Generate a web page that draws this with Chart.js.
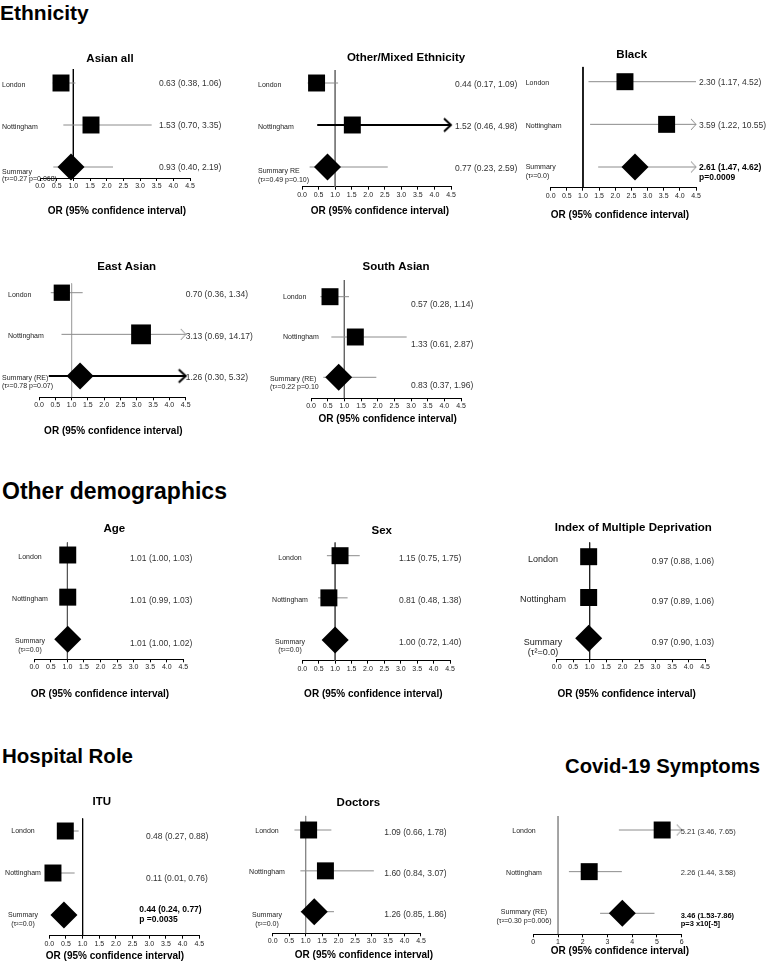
<!DOCTYPE html>
<html>
<head>
<meta charset="utf-8">
<script src="https://cdn.jsdelivr.net/npm/chart.js@4"></script>
<style>
  body { margin: 0; background: #fff; width: 768px; height: 964px; position: relative; overflow: hidden;
         font-family: "Liberation Sans", Arial, sans-serif; }
  canvas { position: absolute; left: 0; top: 0; pointer-events: none; }
  .hd { position: absolute; font-weight: bold; font-size: 21px; line-height: 1; white-space: nowrap; color: #000; }
</style>
</head>
<body>
<div class="hd" style="left:0;top:2px">Ethnicity</div>
<div class="hd" style="left:2px;top:480px;font-size:23px">Other demographics</div>
<div class="hd" style="left:2px;top:746px;font-size:20.5px">Hospital Role</div>
<div class="hd" style="left:565px;top:756px;font-size:20.3px">Covid-19 Symptoms</div>
<script>
const FONT = '"Liberation Sans", Arial, sans-serif';

const rowNames = ['London', 'Nottingham', 'Summary'];
const orTickLabels = ['0.0', '0.5', '1.0', '1.5', '2.0', '2.5', '3.0', '3.5', '4.0', '4.5'];
const covidTickLabels = ['0', '1', '2', '3', '4', '5', '6'];

// odds ratio, lower and upper 95% limit: London, Nottingham, Summary
const asianAllOR = [0.63, 1.53, 0.93];
const asianAllLow = [0.38, 0.70, 0.40];
const asianAllHigh = [1.06, 3.35, 2.19];

const otherOR = [0.44, 1.52, 0.77];
const otherLow = [0.17, 0.46, 0.23];
const otherHigh = [1.09, 4.98, 2.59];

const blackOR = [2.30, 3.59, 2.61];
const blackLow = [1.17, 1.22, 1.47];
const blackHigh = [4.52, 10.55, 4.62];

const eastAsianOR = [0.70, 3.13, 1.26];
const eastAsianLow = [0.36, 0.69, 0.30];
const eastAsianHigh = [1.34, 14.17, 5.32];

const southAsianOR = [0.57, 1.33, 0.83];
const southAsianLow = [0.28, 0.61, 0.37];
const southAsianHigh = [1.14, 2.87, 1.96];

const ageOR = [1.01, 1.01, 1.01];
const ageLow = [1.00, 0.99, 1.00];
const ageHigh = [1.03, 1.03, 1.02];

const sexOR = [1.15, 0.81, 1.00];
const sexLow = [0.75, 0.48, 0.72];
const sexHigh = [1.75, 1.38, 1.40];

const imdOR = [0.97, 0.97, 0.97];
const imdLow = [0.88, 0.89, 0.90];
const imdHigh = [1.06, 1.06, 1.03];

const ituOR = [0.48, 0.11, 0.44];
const ituLow = [0.27, 0.01, 0.24];
const ituHigh = [0.88, 0.76, 0.77];

const doctorsOR = [1.09, 1.60, 1.26];
const doctorsLow = [0.66, 0.84, 0.85];
const doctorsHigh = [1.78, 3.07, 1.86];

// covid summary is drawn where the picture shows it; its printed text differs
const covidOR = [5.21, 2.26, 3.6];
const covidLow = [3.46, 1.44, 2.7];
const covidHigh = [7.65, 3.58, 4.9];
const covidSummaryText = ['3.46 (1.53-7.86)', 'p=3 x10[-5]'];

const blackSummaryP = 'p=0.0009';
const ituSummaryP = 'p =0.0035';

function fmt(a, b, c) {
  return a.toFixed(2) + ' (' + b.toFixed(2) + ', ' + c.toFixed(2) + ')';
}

function chevron(depth, h, color, lw) {
  const c = document.createElement('canvas');
  c.width = 2 * (depth + 2);
  c.height = h + 4;
  const g = c.getContext('2d');
  g.strokeStyle = color;
  g.lineWidth = lw;
  g.beginPath();
  g.moveTo(2, 2);
  g.lineTo(depth + 2, h / 2 + 2);
  g.lineTo(2, h + 2);
  g.stroke();
  return c;
}
const grayHead = chevron(5, 11, '#8a8a8a', 1);
const blackHead = chevron(7, 13, '#000', 2);

const panels = [
  { title: 'Asian all', or: asianAllOR, lo: asianAllLow, hi: asianAllHigh,
    sumName: 'Summary', note: '(τ²=0.27 p=0.068)',
    x0: 40, x1: 190, top: 69, axis: 178, r0: 83, r2: 167, ref: '#000',
    labX: 2, labAlign: 'left', labDy: 2, sumDy: 5, sumGap: 7,
    estX: 159, estDy: 1, titleX: 110, titleY: 59, axTX: 117, axTY: 211 },
  { title: 'Other/Mixed Ethnicity', or: otherOR, lo: otherLow, hi: otherHigh,
    sumName: 'Summary RE', note: '(τ²=0.49 p=0.10)', boldRow: 1,
    x0: 302, x1: 451, top: 70, axis: 186.7, r0: 83, r2: 167, ref: '#777',
    labX: 258, labAlign: 'left', labDy: 2, sumDy: 4, sumGap: 9,
    estX: 455, estDy: 2, titleX: 406, titleY: 58, axTX: 380, axTY: 211 },
  { title: 'Black', or: blackOR, lo: blackLow, hi: blackHigh,
    sumName: 'Summary', note: '(τ²=0.0)',
    sumLines: [fmt(blackOR[2], blackLow[2], blackHigh[2]), blackSummaryP], sumEstDy: 1, sumEstGap: 9.3,
    x0: 550.7, x1: 696, top: 66.7, axis: 187.7, r0: 81.7, r2: 167, ref: '#000',
    labX: 525.7, labAlign: 'left', labDy: 1.5, sumDy: 0, sumGap: 9,
    estX: 699, estDy: 1, titleX: 631.7, titleY: 55, axTX: 620, axTY: 215.7 },
  { title: 'East Asian', or: eastAsianOR, lo: eastAsianLow, hi: eastAsianHigh,
    sumName: 'Summary (RE)', note: '(τ²=0.78 p=0.07)', boldRow: 2, sizes: [11.5, 14, 13.5],
    x0: 39, x1: 185.7, top: 283.3, axis: 397.3, r0: 292.7, r2: 376, ref: '#aaa',
    labX: 8, sumX: 2, labAlign: 'left', labDy: 2, sumDy: 2, sumGap: 8,
    estX: 185.7, estDy: 2, titleX: 126.7, titleY: 266.7, axTX: 113.3, axTY: 431.7 },
  { title: 'South Asian', or: southAsianOR, lo: southAsianLow, hi: southAsianHigh,
    sumName: 'Summary (RE)', note: '(τ²=0.22 p=0.10',
    x0: 311, x1: 461, top: 280, axis: 398.3, r0: 296.7, r2: 377.3, ref: '#666',
    labX: 283, sumX: 270, labAlign: 'left', labDy: 0.5, sumDy: 2, sumGap: 7.5,
    estX: 411, estDy: 8, titleX: 396, titleY: 266.7, axTX: 387.7, axTY: 419.3 },
  { title: 'Age', or: ageOR, lo: ageLow, hi: ageHigh,
    sumName: 'Summary', note: '(τ²=0.0)',
    x0: 34.3, x1: 183.3, top: 542.3, axis: 659.3, r0: 555, r2: 639.3, ref: '#555',
    labX: 30, labAlign: 'center', labDy: 2, sumDy: 2, sumGap: 8.5,
    estX: 130, estDy: 4, titleX: 114.3, titleY: 529.3, axTX: 100, axTY: 694.3 },
  { title: 'Sex', or: sexOR, lo: sexLow, hi: sexHigh,
    sumName: 'Summary', note: '(τ²=0.0)',
    x0: 302.3, x1: 450, top: 542.3, axis: 660.7, r0: 555.7, r2: 640, ref: '#555',
    labX: 290, labAlign: 'center', labDy: 2.5, sumDy: 2, sumGap: 8.5,
    estX: 399, estDy: 3, titleX: 381.7, titleY: 530.7, axTX: 373.3, axTY: 694 },
  { title: 'Index of Multiple Deprivation', or: imdOR, lo: imdLow, hi: imdHigh,
    sumName: 'Summary', note: '(τ²=0.0)', labSize: 9,
    x0: 556.7, x1: 705, top: 542.3, axis: 659.3, r0: 556.7, r2: 638.3, ref: '#222',
    labX: 543, labAlign: 'center', labDy: 2.5, sumDy: 4, sumGap: 10.5,
    estX: 651.7, estDy: 4.5, titleX: 633.3, titleY: 528.3, axTX: 626.7, axTY: 694.3 },
  { title: 'ITU', or: ituOR, lo: ituLow, hi: ituHigh,
    sumName: 'Summary', note: '(τ²=0.0)',
    sumLines: [fmt(ituOR[2], ituLow[2], ituHigh[2]), ituSummaryP], sumEstX: 139.3, sumEstDy: -5, sumEstGap: 10,
    x0: 49.3, x1: 199.3, top: 818.3, axis: 935.7, r0: 831, r2: 915, ref: '#000',
    labX: 23, labAlign: 'center', labDy: 0.5, sumDy: 0, sumGap: 9,
    estX: 146, estDy: 6, titleX: 101.7, titleY: 802.3, axTX: 115, axTY: 956.7 },
  { title: 'Doctors', or: doctorsOR, lo: doctorsLow, hi: doctorsHigh,
    sumName: 'Summary', note: '(τ²=0.0)',
    x0: 272.7, x1: 421, top: 815.7, axis: 933.3, r0: 830, r2: 911.7, ref: '#888',
    labX: 267, labAlign: 'center', labDy: 1.5, sumDy: 3, sumGap: 9,
    estX: 384.3, estDy: 3, titleX: 358.3, titleY: 803.3, axTX: 364, axTY: 955.7 },
  { title: '', or: covidOR, lo: covidLow, hi: covidHigh, max: 6, step: 1, ticks: covidTickLabels,
    sumName: 'Summary (RE)', note: '(τ²=0.30 p=0.006)', estSize: 7.5,
    sumLines: covidSummaryText, sumEstDy: 2.4, sumEstGap: 8.6,
    x0: 533.3, x1: 681.7, top: 816, axis: 934.3, r0: 830, r2: 913.3, ref: '#999',
    labX: 524, labAlign: 'center', labDy: 1, sumDy: -1, sumGap: 9,
    estX: 680.7, estDy: 1.5, axTX: 620, axTY: 951.7 }
];

function txt(ctx, s, x, y, size, bold, align, color) {
  ctx.font = (bold ? 'bold ' : '') + size + 'px ' + FONT;
  ctx.textAlign = align || 'left';
  ctx.textBaseline = 'middle';
  ctx.fillStyle = color || '#222';
  ctx.fillText(s, x, y);
}

function panelText(p) {
  return {
    id: 'panelText',
    afterDraw(chart) {
      const ctx = chart.ctx;
      const ys = chart.scales.y;
      const ls = p.labSize || 7;
      const es = p.estSize || 8.5;
      ctx.save();
      if (p.title) txt(ctx, p.title, p.titleX, p.titleY, 11.5, true, 'center', '#000');
      txt(ctx, 'OR (95% confidence interval)', p.axTX, p.axTY, 10, true, 'center', '#000');
      rowNames.forEach((name, i) => {
        const y = ys.getPixelForValue(i);
        if (i < 2) {
          txt(ctx, name, p.labX, y + p.labDy, ls, false, p.labAlign, '#222');
          txt(ctx, fmt(p.or[i], p.lo[i], p.hi[i]), p.estX, y + p.estDy, es, false, 'left', '#333');
        } else {
          const sx = p.sumX !== undefined ? p.sumX : p.labX;
          txt(ctx, p.sumName, sx, y + p.sumDy, ls, false, p.labAlign, '#222');
          txt(ctx, p.note, sx, y + p.sumDy + p.sumGap, ls, false, p.labAlign, '#222');
          if (p.sumLines) {
            const ex = p.sumEstX !== undefined ? p.sumEstX : p.estX;
            txt(ctx, p.sumLines[0], ex, y + p.sumEstDy, es, true, 'left', '#000');
            txt(ctx, p.sumLines[1], ex, y + p.sumEstDy + p.sumEstGap, es, true, 'left', '#000');
          } else {
            txt(ctx, fmt(p.or[i], p.lo[i], p.hi[i]), p.estX, y + p.estDy, es, false, 'left', '#333');
          }
        }
      });
      ctx.restore();
    }
  };
}

panels.forEach(p => {
  const canvas = document.createElement('canvas');
  canvas.width = 768;
  canvas.height = 964;
  document.body.appendChild(canvas);

  const max = p.max || 4.5;
  const step = p.step || 0.5;
  const tickLabels = p.ticks || orTickLabels;
  const u = (p.r2 - p.r0) / 2;
  const yMin = -(p.r0 - p.top) / u;
  const yMax = 2 + (p.axis - p.r2) / u;
  const sizes = p.sizes || [12, 12, 13.5];

  const datasets = [];
  // estimates: squares for sites, diamond for summary
  datasets.push({
    data: rowNames.map((r, i) => ({ x: p.or[i], y: i })),
    pointStyle: ['rect', 'rect', 'rectRot'],
    pointRadius: sizes,
    backgroundColor: '#000',
    borderWidth: 0,
    showLine: false,
    clip: false
  });
  // confidence intervals
  rowNames.forEach((r, i) => {
    const arrow = p.hi[i] > max + 0.05;
    const bold = p.boldRow === i;
    datasets.push({
      data: [{ x: p.lo[i], y: i }, { x: Math.min(p.hi[i], max), y: i }],
      showLine: true,
      borderColor: bold ? '#000' : '#8c8c8c',
      borderWidth: bold ? 2 : 1,
      pointRadius: [0, arrow ? 4 : 0],
      pointStyle: ['circle', arrow ? (bold ? blackHead : grayHead) : 'circle'],
      clip: false
    });
  });
  // line of no effect
  datasets.push({
    data: [{ x: 1, y: yMin }, { x: 1, y: yMax }],
    showLine: true,
    borderColor: p.ref,
    borderWidth: 1,
    pointRadius: 0
  });

  new Chart(canvas, {
    type: 'scatter',
    data: { datasets },
    options: {
      responsive: false,
      animation: false,
      events: [],
      layout: { padding: { left: p.x0, right: 768 - p.x1, top: p.top, bottom: 964 - p.axis - 20 } },
      plugins: { legend: { display: false }, tooltip: { enabled: false } },
      scales: {
        x: {
          type: 'linear', min: 0, max: max, position: 'bottom',
          afterFit: s => { s.height = 20; },
          ticks: {
            stepSize: step, autoSkip: false, maxRotation: 0, minRotation: 0, padding: 1,
            color: '#222', font: { family: FONT, size: 7 },
            callback: (v, i) => tickLabels[i] || ''
          },
          grid: { display: true, drawOnChartArea: false, drawTicks: true, tickLength: 3, color: '#000' },
          border: { display: true, color: '#000', width: 1 }
        },
        y: { type: 'linear', display: false, reverse: true, min: yMin, max: yMax }
      }
    },
    plugins: [panelText(p)]
  });
});
</script>
</body>
</html>
